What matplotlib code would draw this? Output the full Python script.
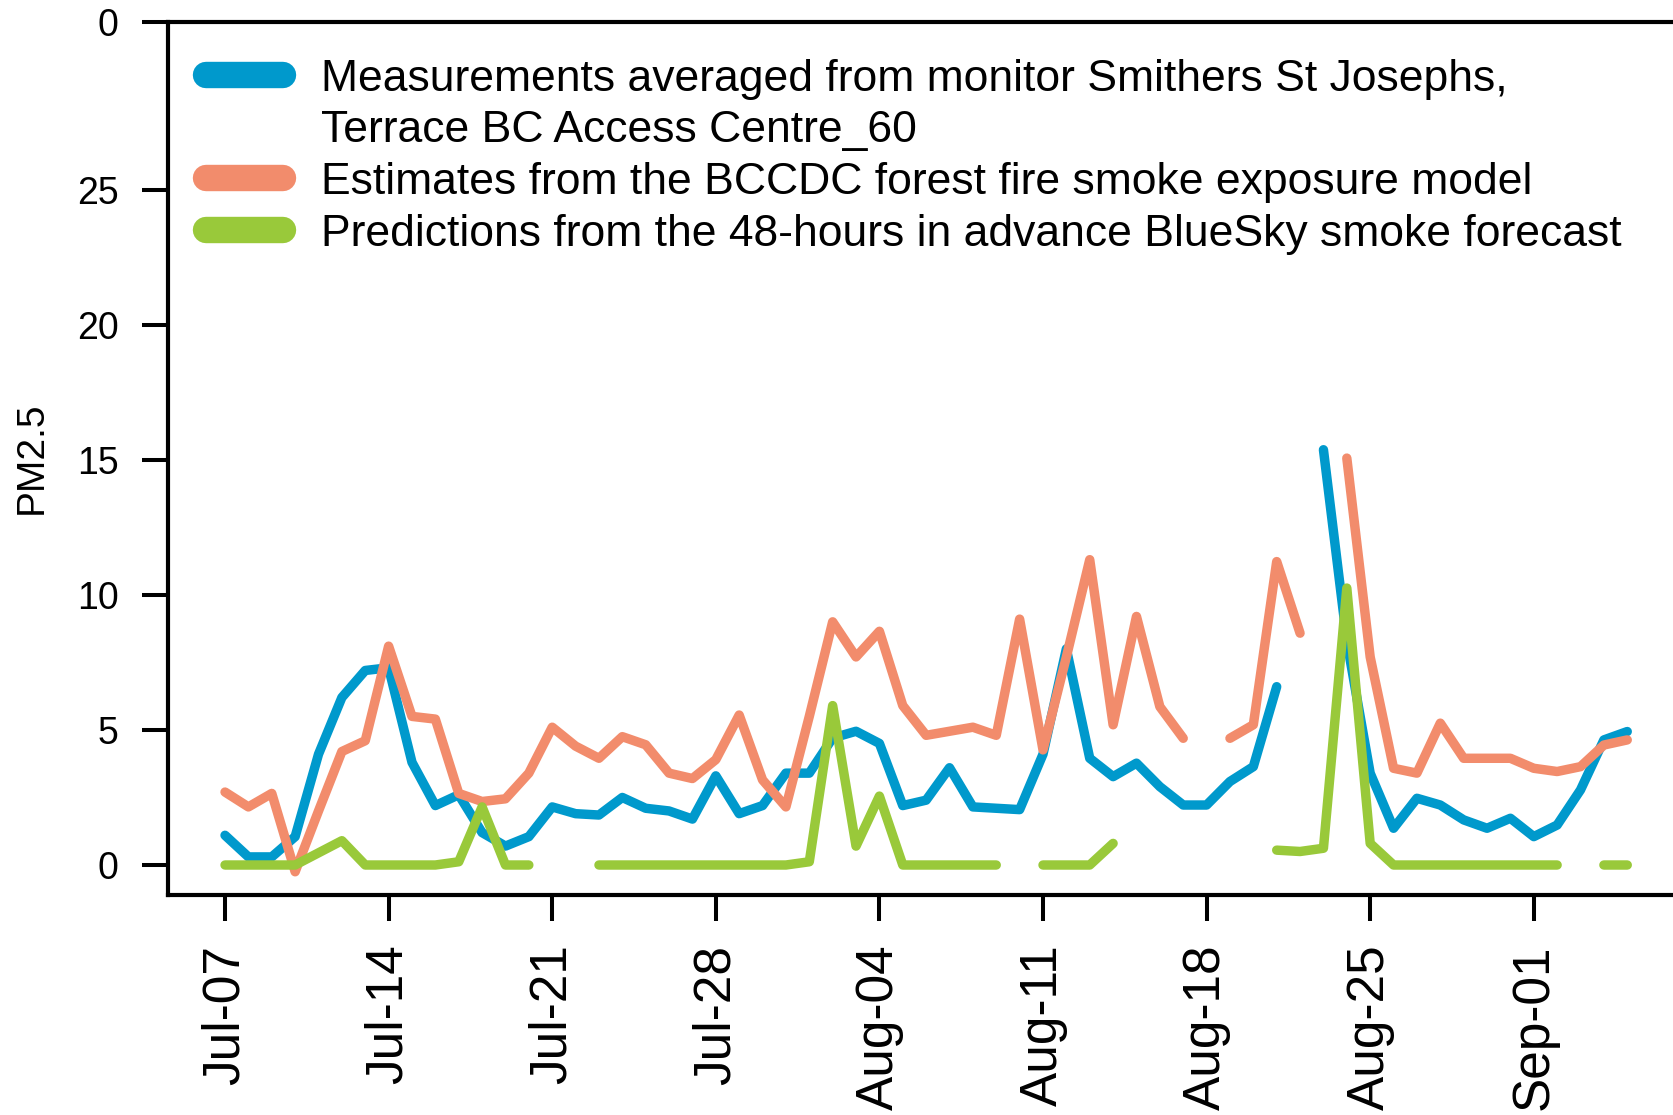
import numpy as np
import pandas as pd
import matplotlib
matplotlib.use("Agg")
import matplotlib.pyplot as plt
from matplotlib.lines import Line2D
from matplotlib import font_manager

nan = np.nan

dates = pd.date_range("2018-07-07", "2018-09-05", freq="D")

measured = [1.1, 0.3, 0.3, 1.05, 4.1, 6.2, 7.2, 7.3, 3.8, 2.2,
            2.6, 1.2, 0.7, 1.05, 2.15, 1.9, 1.85, 2.5, 2.1, 2.0,
            1.7, 3.3, 1.9, 2.2, 3.4, 3.4, 4.7, 4.95, 4.5, 2.2,
            2.4, 3.6, 2.15, 2.1, 2.05, 4.1, 8.0, 3.95, 3.27, 3.77,
            2.9, 2.22, 2.22, 3.09, 3.64, 6.6, nan, 15.37, 8.3, 3.4,
            1.36, 2.47, 2.22, 1.67, 1.36, 1.73, 1.05, 1.48, 2.78, 4.63,
            4.94]

bccdc = [2.7, 2.15, 2.65, -0.25, 2.0, 4.2, 4.6, 8.1, 5.5, 5.4,
         2.65, 2.35, 2.45, 3.4, 5.1, 4.4, 3.95, 4.75, 4.45, 3.4,
         3.2, 3.9, 5.55, 3.15, 2.15, 5.5, 9.0, 7.7, 8.65, 5.9,
         4.8, 4.95, 5.1, 4.8, 9.1, 4.26, 7.7, 11.3, 5.19, 9.2,
         5.86, 4.69, nan, 4.69, 5.19, 11.23, 8.58, nan, 15.06, 7.7,
         3.58, 3.4, 5.25, 3.95, 3.95, 3.95, 3.58, 3.46, 3.64, 4.44,
         4.63]

bluesky = [0, 0, 0, 0, 0.45, 0.9, 0, 0, 0, 0,
           0.12, 2.15, 0, 0, nan, nan, 0, 0, 0, 0,
           0, 0, 0, 0, 0, 0.12, 5.9, 0.7, 2.55, 0,
           0, 0, 0, 0, nan, 0, 0, 0, 0.8, nan,
           nan, nan, nan, nan, nan, 0.55, 0.5, 0.62, 10.25, 0.8,
           0, 0, 0, 0, 0, 0, 0, 0, nan, 0,
           0]

labels = ["Measurements averaged from monitor Smithers St Josephs,",
          "Terrace BC Access Centre_60",
          "Estimates from the BCCDC forest fire smoke exposure model",
          "Predictions from the 48-hours in advance BlueSky smoke forecast"]
colors = ["#0099cc", "#f28c6c", "#99c93a"]

ytick_vals = [0, 5, 10, 15, 20, 25, 31.2]
ytick_labels = ["0", "5", "10", "15", "20", "25", "0"]

available = {f.name for f in font_manager.fontManager.ttflist}
legend_font = "Liberation Sans Narrow" if "Liberation Sans Narrow" in available else "Liberation Sans"
plt.rcParams["font.family"] = ["Liberation Sans", "DejaVu Sans"]

fig = plt.figure(figsize=(16.74, 11.15), dpi=100)
ax = fig.add_axes([168 / 1674, 1 - 895 / 1115, 1 - 168 / 1674, (895 - 22) / 1115])

for series, c in zip([measured, bccdc, bluesky], colors):
    ax.plot(dates, series, color=c, lw=6.8, solid_joinstyle="round",
            solid_capstyle="round")

x0 = dates[0] - pd.Timedelta(days=2.44)
x1 = dates[0] + pd.Timedelta(days=62.0)
ax.set_xlim(x0, x1)
ax.set_ylim(-1.11, 31.2)

ticks = dates[::7][:9]
ax.set_xticks(ticks)
ax.set_xticklabels([d.strftime("%b-%d") for d in ticks], rotation=90,
                   fontsize=37)
ax.set_yticks(ytick_vals)
ax.set_yticklabels(ytick_labels, fontsize=27)
ax.tick_params(axis="both", length=18.7, width=2.9, pad=17, direction="out")
fig.text(32 / 1674, 1 - 458 / 1115, "PM2.5", rotation=90, fontsize=28,
         ha="center", va="center")

for s in ["left", "bottom", "top"]:
    ax.spines[s].set_linewidth(3)
ax.spines["right"].set_visible(False)

handles = [Line2D([], [], color=colors[0], lw=19, solid_capstyle="round"),
           Line2D([], [], color="none", lw=0),
           Line2D([], [], color=colors[1], lw=19, solid_capstyle="round"),
           Line2D([], [], color=colors[2], lw=19, solid_capstyle="round")]
ax.legend(handles, labels, loc="upper left", bbox_to_anchor=(0.025, 0.958),
          frameon=False, prop={"family": legend_font, "size": 32},
          handlelength=1.75, handletextpad=0.85, labelspacing=0.24,
          borderpad=0, borderaxespad=0)

fig.savefig("out.png", dpi=100)
